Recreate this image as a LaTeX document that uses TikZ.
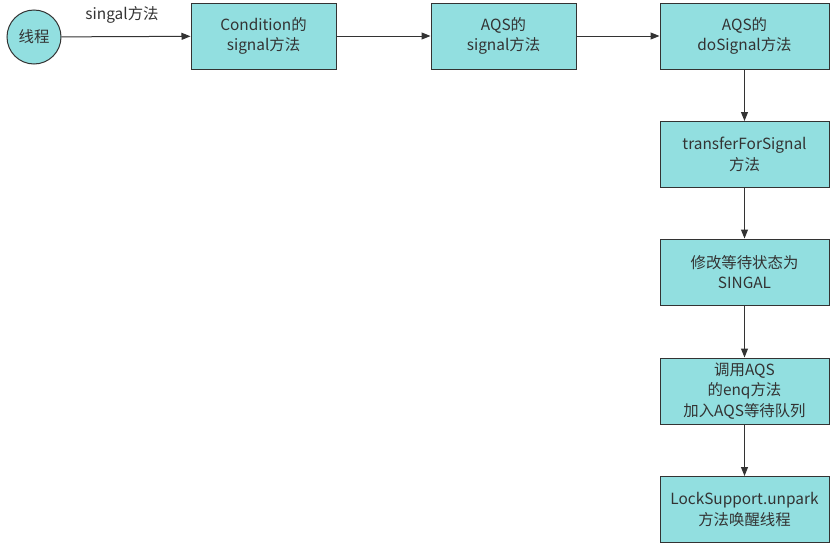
\documentclass[tikz,border=0pt]{standalone}
\usepackage{fontspec}
\setmainfont{Noto Sans CJK SC}
\usetikzlibrary{arrows.meta}
\definecolor{boxfill}{HTML}{92DFE0}
\definecolor{edgegray}{HTML}{333333}
\begin{document}
\begin{tikzpicture}[x = 1pt, y = -1pt, font = \fontsize{15.4}{20.5}\selectfont,
        stepbox/.style = {draw = edgegray, fill = boxfill, line width = 1pt, text = edgegray,
            minimum width = 145pt, minimum height = 66pt, align = center, inner sep = 0pt},
        widebox/.style = {stepbox, minimum width = 169pt},
        flow/.style = {-{Triangle[length = 9pt, width = 7pt]}, draw = edgegray, line width = 1pt}]
        \useasboundingbox (0, 0) rectangle (833, 549);
        \node [circle, draw = edgegray, fill = boxfill, line width = 1pt, minimum size = 54pt, inner sep = 0pt, text = edgegray] (thread) at (34, 37) {线程};
        \node [stepbox] (condsig) at (263.5, 36) {Condition的\\signal方法};
        \node [stepbox] (aqssig) at (503.5, 36) {AQS的\\signal方法};
        \node [widebox] (dosig) at (744.5, 36) {AQS的\\doSignal方法};
        \node [widebox] (transfer) at (744.5, 154.5) {transferForSignal\\方法};
        \node [widebox] (status) at (744.5, 272) {修改等待状态为\\SINGAL};
        \node [widebox] (enq) at (744.5, 391) {调用AQS\\的enq方法\\加入AQS等待队列};
        \node [widebox] (unpark) at (744.5, 509.5) {LockSupport.unpark\\方法唤醒线程};
        \node [text = edgegray] (callsig) at (122, 15) {singal方法};
        \draw [flow] (thread) -- (condsig);
        \draw [flow] (condsig) -- (aqssig);
        \draw [flow] (aqssig) -- (dosig);
        \draw [flow] (dosig) -- (transfer);
        \draw [flow] (transfer) -- (status);
        \draw [flow] (status) -- (enq);
        \draw [flow] (enq) -- (unpark);
    \end{tikzpicture}
\end{document}
